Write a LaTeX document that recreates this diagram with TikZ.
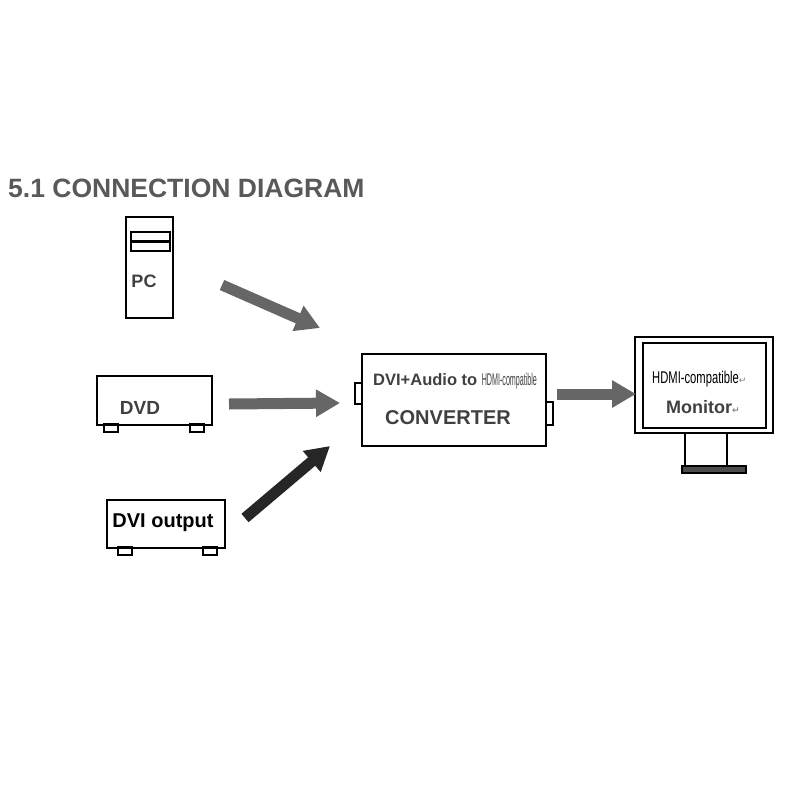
\documentclass[tikz,border=0pt]{standalone}
\usepackage{fontspec}
\setmainfont{Liberation Sans}
\newfontfamily\symfont{DejaVu Sans}
\usetikzlibrary{arrows.meta,positioning}
\newcommand{\narrowtxt}[2][0.5]{\scalebox{#1}[1]{\fontsize{17}{17}\selectfont #2}}
\newcommand{\retsym}{{\symfont\fontsize{9}{9}\selectfont\textcolor{gray}{↵}}}
\begin{document}
\begin{tikzpicture}
      [x = 1pt, y = -1pt,
      box/.style = {draw, line width = 1.6pt},
      foot/.style = {draw, line width = 1.2pt, fill = white},
      bigarrow/.style = {line width = 11pt, draw = black!60,
         -{Triangle[length = 24pt, width = 26pt]}},
      label/.style = {inner sep = 0pt, text = black!75}]

      \useasboundingbox (0, 0) rectangle (800, 800);

      \node[label, anchor = west, text = black!65, font = \bfseries\fontsize{26.5}{26.5}\selectfont]
         (title) at (8, 188) {5.1 CONNECTION DIAGRAM};

      % PC
      \draw[box] (126, 217) rectangle (173, 318);
      \draw[line width = 1.2pt] (131, 232) rectangle (170, 251);
      \draw[line width = 3pt] (131, 241.5) -- (170, 241.5);
      \node[label, font = \bfseries\fontsize{18}{18}\selectfont] (pc) at (144, 281) {PC};

      % DVD
      \draw[foot] (104, 424) rectangle (118, 432);
      \draw[foot] (190, 424) rectangle (204, 432);
      \draw[box] (97, 376) rectangle (212, 425);
      \node[label, font = \bfseries\fontsize{19}{19}\selectfont] (dvd) at (140, 408) {DVD};

      % DVI output
      \draw[foot] (118, 547) rectangle (132, 555);
      \draw[foot] (203, 547) rectangle (217, 555);
      \draw[box] (107, 500) rectangle (225, 548);
      \node[label, text = black, font = \bfseries\fontsize{20}{20}\selectfont] (dvi) at (163, 523) {DVI output};

      % converter
      \draw[box] (355, 383) rectangle (362, 404);
      \draw[box] (546, 402) rectangle (553, 425);
      \draw[box] (362, 354) rectangle (546, 446);
      \node[label, anchor = west, font = \bfseries\fontsize{16.5}{16.5}\selectfont] (conv1) at (373, 381)
         {DVI+Audio to \narrowtxt[0.42]{\mdseries HDMI-compatible}};
      \node[label, font = \bfseries\fontsize{20}{20}\selectfont] (conv2) at (448, 418) {CONVERTER};

      % monitor
      \draw[line width = 1.4pt] (685, 433) -- (685, 466);
      \draw[line width = 1.4pt] (727, 433) -- (727, 466);
      \draw[line width = 1.4pt, fill = black!70] (682, 466) rectangle (746, 473);
      \draw[box] (635, 337) rectangle (773, 433);
      \draw[line width = 1.2pt] (643, 343) rectangle (766, 428);
      \node[label, anchor = west, text = black] (mon1) at (652, 379) {\narrowtxt[0.66]{HDMI-compatible}\retsym};
      \node[label, anchor = west, font = \bfseries\fontsize{18}{18}\selectfont] (mon2) at (666, 407) {Monitor\retsym};

      % arrows
      \coordinate (pcA) at (222, 285);   \coordinate (pcB) at (320, 328);
      \coordinate (dvdA) at (229, 404);  \coordinate (dvdB) at (340, 403);
      \coordinate (dviA) at (245, 518);  \coordinate (dviB) at (330, 446);
      \coordinate (outA) at (557, 394);  \coordinate (outB) at (636, 394);
      \draw[bigarrow] (pcA) -- (pcB);
      \draw[bigarrow] (dvdA) -- (dvdB);
      \draw[bigarrow, draw = black!85] (dviA) -- (dviB);
      \draw[bigarrow] (outA) -- (outB);

   \end{tikzpicture}
\end{document}
